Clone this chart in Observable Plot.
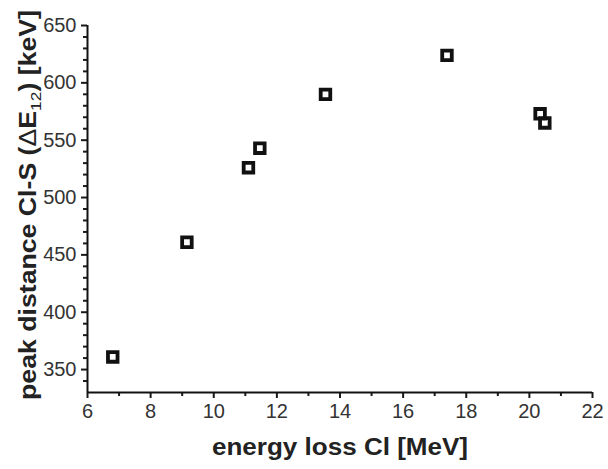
<!DOCTYPE html>
<html>
<head>
<meta charset="utf-8">
<script src="https://cdn.jsdelivr.net/npm/d3@7"></script>
<script src="https://cdn.jsdelivr.net/npm/@observablehq/plot@0.6"></script>
<style>
  body { margin: 0; background: #fff; }
</style>
</head>
<body>
<div id="chart"></div>
<script>
const energyLoss = [6.8, 9.15, 11.1, 11.46, 13.54, 17.39, 20.34, 20.49];
const peakDistance = [361, 461, 526, 543, 590, 624, 573, 565];
const xMajorTicks = [6, 8, 10, 12, 14, 16, 18, 20, 22];
const xMinorTicks = [7, 9, 11, 13, 15, 17, 19, 21];
const yMajorTicks = [350, 400, 450, 500, 550, 600, 650];
const yMinorTicks = [340, 360, 370, 380, 390, 410, 420, 430, 440, 460, 470, 480, 490, 510, 520, 530, 540, 560, 570, 580, 590, 610, 620, 630, 640];
const xLabel = "energy loss Cl [MeV]";
const yLabelParts = ["peak distance Cl-S (", "\u0394", "E", "12", ") [keV]"];

const data = energyLoss.map((x, i) => ({x, y: peakDistance[i]}));

const chart = Plot.plot({
  width: 608,
  height: 469,
  marginLeft: 87,
  marginRight: 16,
  marginTop: 25,
  marginBottom: 77,
  style: {fontFamily: "Liberation Sans, Arial, sans-serif", fontSize: "20px", color: "#1a1a1a", background: "#fff"},
  x: {domain: [6, 22]},
  y: {domain: [330, 650]},
  marks: [
    Plot.axisX({ticks: xMinorTicks, tickSize: 4, tickFormat: () => "", label: null, strokeWidth: 2}),
    Plot.axisX({ticks: xMajorTicks, tickSize: 6, tickPadding: 5, label: null, strokeWidth: 2, fontSize: 20, fill: "#333"}),
    Plot.axisY({ticks: yMinorTicks, tickSize: 4, tickFormat: () => "", label: null, strokeWidth: 2}),
    Plot.axisY({ticks: yMajorTicks, tickSize: 6, tickPadding: 5, label: null, strokeWidth: 2, fontSize: 20, fill: "#333"}),
    Plot.ruleX([6], {stroke: "#111", strokeWidth: 2}),
    Plot.ruleY([330], {stroke: "#111", strokeWidth: 2}),
    Plot.dot(data, {x: "x", y: "y", symbol: "square", r: 5.4, stroke: "#111", strokeWidth: 3.8, fill: "none"})
  ]
});

const svg = d3.select(chart);
svg.append("text")
  .attr("x", 340)
  .attr("y", 455)
  .attr("text-anchor", "middle")
  .attr("font-family", "Liberation Sans, Arial, sans-serif")
  .attr("font-weight", "bold")
  .attr("font-size", 23)
  .attr("fill", "#222")
  .attr("textLength", 256)
  .attr("lengthAdjust", "spacingAndGlyphs")
  .text(xLabel);

const yl = svg.append("text")
  .attr("transform", "translate(36,205) rotate(-90)")
  .attr("text-anchor", "middle")
  .attr("font-family", "Liberation Sans, Arial, sans-serif")
  .attr("font-weight", "bold")
  .attr("font-size", 23)
  .attr("fill", "#222")
  .attr("textLength", 390)
  .attr("lengthAdjust", "spacingAndGlyphs");
yl.append("tspan").text(yLabelParts[0]);
yl.append("tspan").attr("font-weight", "normal").text(yLabelParts[1]);
yl.append("tspan").text(yLabelParts[2]);
yl.append("tspan").attr("font-size", 15).attr("font-weight", "normal").attr("dy", 5).text(yLabelParts[3]);
yl.append("tspan").attr("dy", -5).text(yLabelParts[4]);

document.getElementById("chart").appendChild(chart);
</script>
</body>
</html>
